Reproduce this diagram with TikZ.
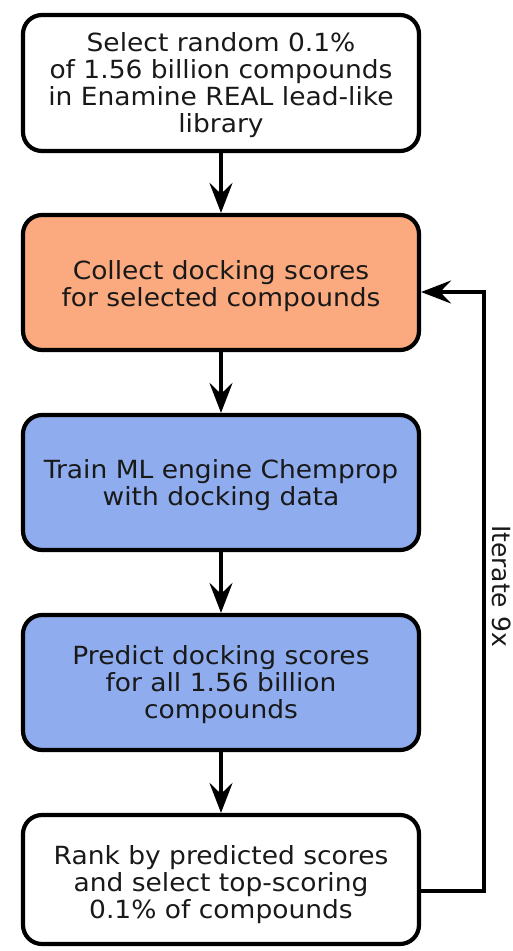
\documentclass[tikz,border=0pt]{standalone}
\usepackage{fontspec}
\setmainfont{DejaVu Sans}
\newfontfamily\boxfont[FakeStretch=1.06]{DejaVu Sans}
\usetikzlibrary{arrows.meta,calc}
\definecolor{orangebox}{RGB}{250,170,126}
\definecolor{bluebox}{RGB}{143,173,238}
\tikzset{
  stepbox/.style={draw=black, line width=4.2pt, rounded corners=19pt, minimum width=396pt, inner sep=0pt},
  boxtext/.style={align=center, font=\boxfont\fontsize{25}{27}\selectfont, inner sep=0pt, text=black!90},
  flowarrow/.style={line width=3.8pt, -{Stealth[length=30pt,width=23pt,inset=11pt]}},
}
\begin{document}
\begin{tikzpicture}[x=1pt,y=1pt]
\useasboundingbox (0,0) rectangle (513,-951);
\node[stepbox, minimum height=136pt] (b1) at (221,-83) {};
\node[stepbox, minimum height=135pt, fill=orangebox] (b2) at (221,-282.5) {};
\node[stepbox, minimum height=135pt, fill=bluebox] (b3) at (221,-482.5) {};
\node[stepbox, minimum height=135pt, fill=bluebox] (b4) at (221,-682.5) {};
\node[stepbox, minimum height=129pt] (b5) at (221,-879.5) {};
\node[boxtext] (t1) at ([yshift=-2pt]b1.center) {Select random 0.1\%\\of 1.56 billion compounds\\in Enamine REAL lead-like\\library};
\node[boxtext] (t2) at ([yshift=-4pt]b2.center) {Collect docking scores\\for selected compounds};
\node[boxtext] (t3) at ([yshift=-2.5pt]b3.center) {Train ML engine Chemprop\\with docking data};
\node[boxtext] (t4) at ([yshift=-2.5pt]b4.center) {Predict docking scores\\for all 1.56 billion\\compounds};
\node[boxtext] (t5) at ([yshift=-5.5pt]b5.center) {Rank by predicted scores\\and select top-scoring\\0.1\% of compounds};
\draw[flowarrow] (b1.south) -- (b2.north);
\draw[flowarrow] (b2.south) -- (b3.north);
\draw[flowarrow] (b3.south) -- (b4.north);
\draw[flowarrow] (b4.south) -- (b5.north);
\coordinate (loopb) at (484,-891);
\coordinate (loopt) at (484,-292);
\draw[flowarrow] ($(b5.east)+(0,-11.5)$) -- (loopb) -- (loopt) -- ($(b2.east)+(0,-9.5)$);
\node[rotate=-90, font=\fontsize{25}{28}\selectfont, text=black!90] (it) at (502,-586) {Iterate 9x};
\end{tikzpicture}
\end{document}
